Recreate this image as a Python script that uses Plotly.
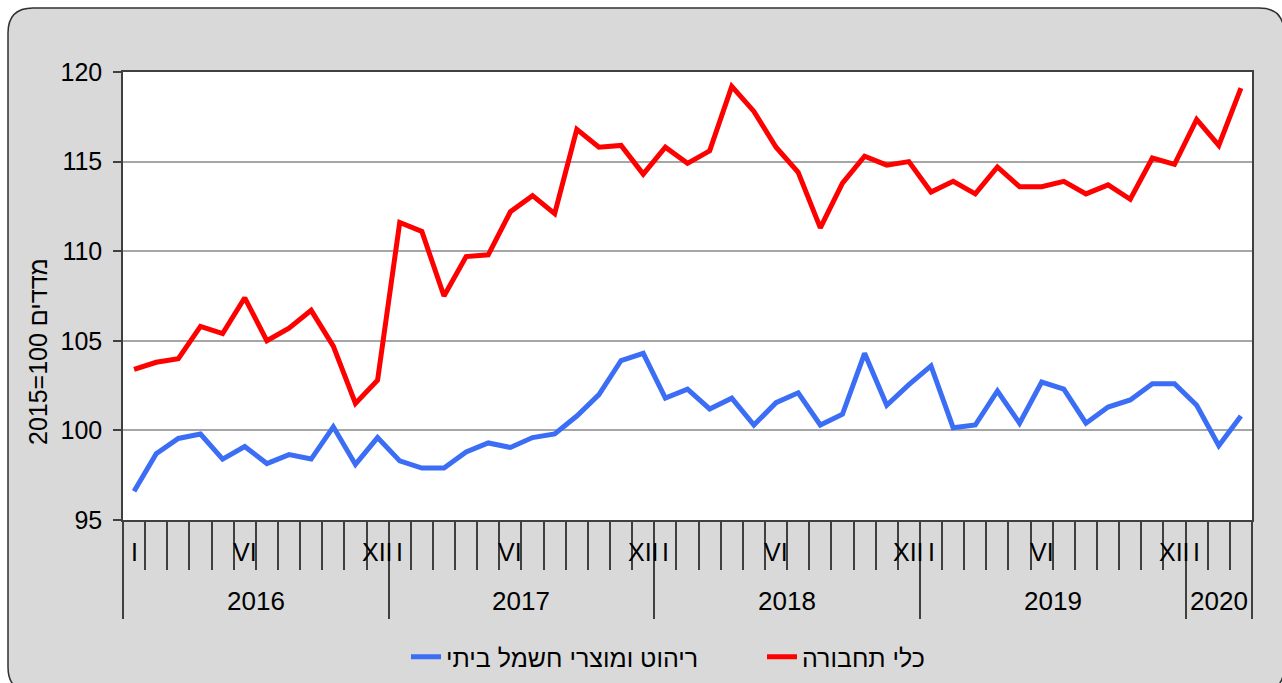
import plotly.graph_objects as go

# ---------------- data ----------------
years = ["2016", "2017", "2018", "2019", "2020"]
months_in_year = [12, 12, 12, 12, 3]
month_numerals = ["I", "", "", "", "", "VI", "", "", "", "", "", "XII"]

vehicles = [103.4, 103.8, 104.0, 105.8, 105.4, 107.4, 105.0, 105.7, 106.7, 104.7, 101.5, 102.8,
            111.6, 111.1, 107.5, 109.7, 109.8, 112.2, 113.1, 112.1, 116.8, 115.8, 115.9, 114.3,
            115.8, 114.9, 115.6, 119.2, 117.8, 115.8, 114.4, 111.3, 113.8, 115.3, 114.8, 115.0,
            113.3, 113.9, 113.2, 114.7, 113.6, 113.6, 113.9, 113.2, 113.7, 112.9, 115.2, 114.85,
            117.35, 115.9, 119.1]

furniture = [96.6, 98.7, 99.55, 99.8, 98.4, 99.1, 98.15, 98.65, 98.4, 100.2, 98.1, 99.6,
             98.3, 97.9, 97.9, 98.8, 99.3, 99.05, 99.6, 99.8, 100.8, 102.0, 103.9, 104.3,
             101.8, 102.3, 101.2, 101.8, 100.3, 101.55, 102.1, 100.3, 100.9, 104.3, 101.4, 102.55,
             103.6, 100.15, 100.3, 102.2, 100.4, 102.7, 102.3, 100.4, 101.3, 101.7, 102.6, 102.6,
             101.4, 99.15, 100.8]

name_furniture = "ריהוט ומוצרי חשמל ביתי"
name_vehicles = "כלי תחבורה"
y_title = "2015=100 מדדים"

y_ticks = [95, 100, 105, 110, 115, 120]

# ---------------- layout helpers ----------------
W, H = 1282, 683
L, R, T, B = 123, 1252, 72, 520
FONT = "Liberation Sans, Arial, sans-serif"
AXC = "#404040"


def px_x(p):
    return (p - L) / (R - L)


def px_y(p):
    return (B - p) / (B - T)


n = len(vehicles)
x = list(range(n))
month_labels = []
for cnt in months_in_year:
    month_labels += month_numerals[:cnt]
boundaries = [i - 0.5 for i in range(n + 1)]
year_bounds = [-0.5]
for cnt in months_in_year:
    year_bounds.append(year_bounds[-1] + cnt)
year_centers = [(year_bounds[k] + year_bounds[k + 1]) / 2 for k in range(len(years))]

fig = go.Figure()
fig.add_trace(go.Scatter(x=x, y=furniture, mode="lines", name=name_furniture, legend="legend",
                         line=dict(color="#3b6ef5", width=5)))
fig.add_trace(go.Scatter(x=x, y=vehicles, mode="lines", name=name_vehicles, legend="legend2",
                         line=dict(color="#ff0000", width=5)))
fig.add_trace(go.Scatter(x=[], y=[], xaxis="x2", yaxis="y", showlegend=False, hoverinfo="skip"))

# rounded gray box
bx0, by0, bx1, by1, r = 8, 8, 1284, 692, 25
pts = [
    ("M", bx0 + r, by0), ("L", bx1 - r, by0), ("Q", bx1, by0, bx1, by0 + r),
    ("L", bx1, by1 - r), ("Q", bx1, by1, bx1 - r, by1), ("L", bx0 + r, by1),
    ("Q", bx0, by1, bx0, by1 - r), ("L", bx0, by0 + r), ("Q", bx0, by0, bx0 + r, by0),
]
path = ""
for p in pts:
    if p[0] == "Q":
        path += f"Q{px_x(p[1])},{px_y(p[2])} {px_x(p[3])},{px_y(p[4])} "
    else:
        path += f"{p[0]}{px_x(p[1])},{px_y(p[2])} "
path += "Z"

shapes = [
    dict(type="path", path=path, xref="paper", yref="paper", layer="below",
         fillcolor="#d9d9d9", line=dict(color="#303030", width=1.5)),
    dict(type="rect", xref="paper", yref="paper", x0=0, x1=1, y0=0, y1=1, layer="below",
         fillcolor="white", line=dict(width=0)),
]

annotations = []
for i, lab in enumerate(month_labels):
    if lab:
        annotations.append(dict(x=i, y=px_y(552), xref="x", yref="paper", text=lab,
                                showarrow=False, xanchor="center", yanchor="middle",
                                font=dict(family=FONT, size=25, color="black")))
for yc, yr in zip(year_centers, years):
    annotations.append(dict(x=yc, y=px_y(601), xref="x", yref="paper", text=yr,
                            showarrow=False, xanchor="center", yanchor="middle",
                            font=dict(family=FONT, size=26, color="black")))
annotations.append(dict(x=px_x(38), y=px_y(352), xref="paper", yref="paper", text=y_title,
                        textangle=-90, showarrow=False, xanchor="center", yanchor="middle",
                        font=dict(family=FONT, size=25, color="black")))

leg_common = dict(orientation="h", xanchor="left", yanchor="middle", y=px_y(657),
                  bgcolor="rgba(0,0,0,0)", font=dict(family=FONT, size=25, color="black"))

fig.update_layout(
    width=W, height=H,
    margin=dict(l=L, r=W - R, t=T, b=H - B, pad=0, autoexpand=False),
    paper_bgcolor="white", plot_bgcolor="white",
    font=dict(family=FONT, color="black"),
    shapes=shapes, annotations=annotations,
    showlegend=True,
    legend=dict(x=px_x(406), **leg_common),
    legend2=dict(x=px_x(762), **leg_common),
    xaxis=dict(range=[-0.5, n - 0.5], tickvals=boundaries, showticklabels=False,
               ticks="outside", ticklen=48, tickcolor=AXC, tickwidth=1.5,
               showgrid=False, zeroline=False, showline=True, linecolor=AXC, linewidth=1.5,
               mirror=True),
    xaxis2=dict(range=[-0.5, n - 0.5], overlaying="x", anchor="y", side="bottom",
                tickvals=year_bounds, showticklabels=False, ticks="outside", ticklen=98,
                tickcolor=AXC, tickwidth=1.5, showgrid=False, zeroline=False, showline=False),
    yaxis=dict(range=[95, 120], tickvals=y_ticks, ticks="outside", ticklen=8, tickcolor=AXC,
               tickwidth=1.5, showgrid=True, gridcolor="#a6a6a6", gridwidth=1.5,
               zeroline=False, showline=True, linecolor=AXC, linewidth=1.5, mirror=True,
               tickfont=dict(family=FONT, size=25, color="black"), ticklabelstandoff=6),
)

fig.write_html("out.html", config={"displayModeBar": False},
               post_script="document.body.style.margin='0';document.body.style.overflow='hidden';")
